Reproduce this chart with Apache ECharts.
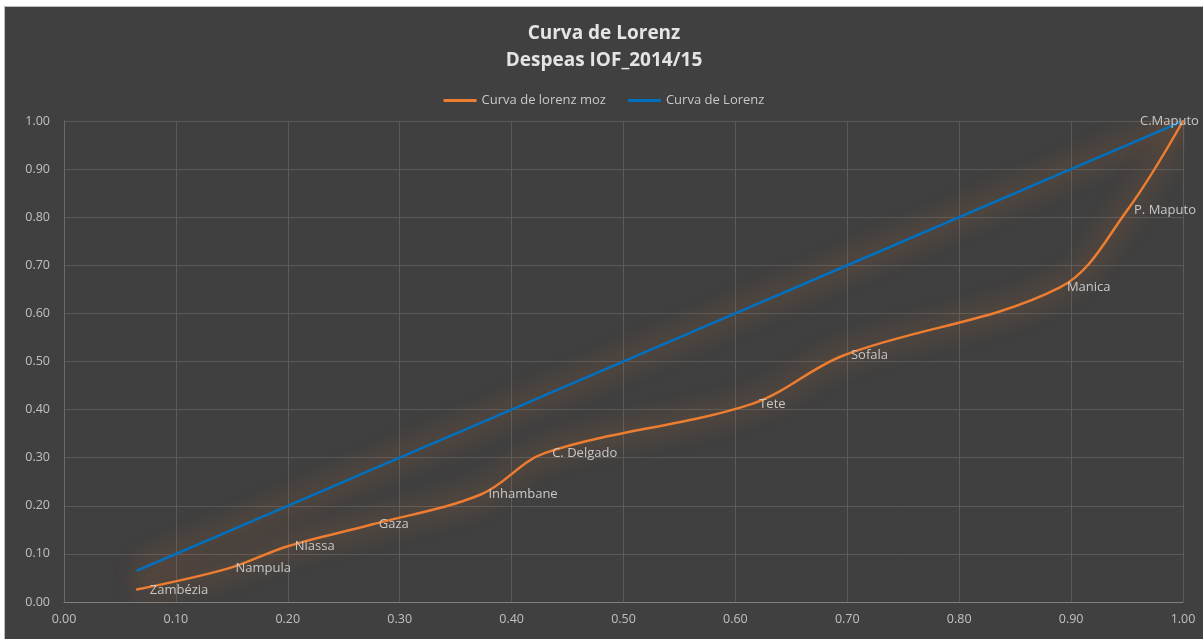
<!DOCTYPE html>
<html>
<head>
<meta charset="utf-8">
<script src="https://cdn.jsdelivr.net/npm/echarts@6/dist/echarts.min.js"></script>
<style>
  html, body { margin: 0; padding: 0; background: #ffffff; width: 1203px; height: 639px; overflow: hidden; }
  #chart { position: absolute; left: 4px; top: 6px; width: 1199px; height: 633px; background: #404040; border-left: 1px solid #bdbdbd; border-top: 1px solid #bdbdbd; box-sizing: border-box; }
</style>
</head>
<body>
<div id="chart"></div>
<script>
// Cumulative population share (x) per province
const provinces = ['Zambézia', 'Nampula', 'Niassa', 'Gaza', 'Inhambane', 'C. Delgado', 'Tete', 'Sofala', 'Manica', 'P. Maputo', 'C.Maputo'];
const popShare = [0.065, 0.147, 0.200, 0.275, 0.373, 0.430, 0.615, 0.697, 0.890, 0.950, 1.000];
// Cumulative expenditure share (Curva de lorenz moz)
const expShare = [0.026, 0.070, 0.116, 0.161, 0.224, 0.310, 0.412, 0.513, 0.654, 0.814, 1.000];
// Line of equality (Curva de Lorenz)
const equalityShare = [0.065, 0.147, 0.200, 0.275, 0.373, 0.430, 0.615, 0.697, 0.890, 0.950, 1.000];
const titleLines = ['Curva de Lorenz', 'Despeas IOF_2014/15'];
const seriesNames = ['Curva de lorenz moz', 'Curva de Lorenz'];

const chart = echarts.init(document.getElementById('chart'));
const fontFam = '"Open Sans", "Noto Sans", sans-serif';
const glow = { shadowBlur: 24, shadowColor: 'rgba(237,125,49,0.95)' };

const labelOffsets = { 0: [6, 1], 10: [-50, 0] };
const lorenzData = popShare.map((x, i) => {
  const d = { value: [x, expShare[i]], name: provinces[i] };
  if (labelOffsets[i]) d.label = { offset: labelOffsets[i] };
  return d;
});
const equalityData = popShare.map((x, i) => [x, equalityShare[i]]);

chart.setOption({
  backgroundColor: 'transparent',
  animation: false,
  title: {
    text: titleLines.join('\n'),
    left: 'center',
    top: 8,
    textStyle: { color: '#e4e4e4', fontSize: 19, fontWeight: 'bold', fontFamily: fontFam, lineHeight: 27 }
  },
  legend: {
    top: 82,
    left: 'center',
    itemWidth: 33,
    itemHeight: 3,
    itemGap: 22,
    icon: 'rect',
    textStyle: { color: '#c8c8c8', fontSize: 13, fontFamily: fontFam },
    data: seriesNames
  },
  grid: { left: 59, right: 20, top: 114, bottom: 37, containLabel: false },
  xAxis: {
    type: 'value', min: 0, max: 1, interval: 0.1,
    axisLine: { show: true, lineStyle: { color: '#808080', width: 1 } },
    axisTick: { show: false },
    axisLabel: { color: '#c0c0c0', fontSize: 12.5, fontFamily: fontFam, margin: 11, formatter: v => v.toFixed(2) },
    splitLine: { show: true, lineStyle: { color: '#5a5a5a', width: 1 } }
  },
  yAxis: {
    type: 'value', min: 0, max: 1, interval: 0.1,
    axisLine: { show: true, lineStyle: { color: '#6a6a6a', width: 1 } },
    axisTick: { show: false },
    axisLabel: { color: '#c0c0c0', fontSize: 12.5, fontFamily: fontFam, margin: 14, formatter: v => v.toFixed(2) },
    splitLine: { show: true, lineStyle: { color: '#5a5a5a', width: 1 } }
  },
  series: [
    {
      name: seriesNames[1],
      type: 'line',
      data: equalityData,
      symbol: 'none',
      showSymbol: false,
      color: '#0070C0',
      lineStyle: Object.assign({ color: '#0070C0', width: 2.5 }, glow),
      z: 2
    },
    {
      name: seriesNames[0],
      type: 'line',
      data: lorenzData,
      smooth: 0.35,
      symbol: 'circle',
      symbolSize: 2,
      showSymbol: true,
      color: '#ED7D31',
      itemStyle: { color: '#ED7D31' },
      lineStyle: Object.assign({ color: '#ED7D31', width: 2.5 }, glow),
      label: {
        show: true,
        position: 'right',
        distance: 6,
        formatter: p => p.name,
        color: '#c8c8c8',
        fontSize: 13,
        fontFamily: fontFam
      },
      z: 3
    }
  ]
});
</script>
</body>
</html>
